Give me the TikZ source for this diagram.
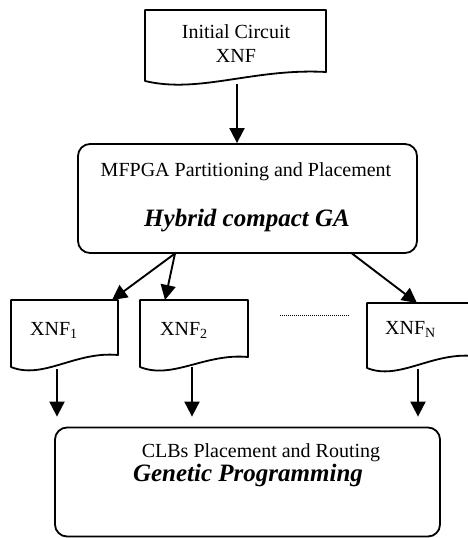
\documentclass[tikz,border=0pt]{standalone}
\usepackage{fontspec}
\setmainfont{Liberation Serif}
\usetikzlibrary{arrows.meta}
\tikzset{
  shapeline/.style={line width=1.8pt, line join=round},
  arr/.style={line width=1.9pt, -{Triangle[length=15pt,width=15pt]}},
  txt/.style={font=\fontsize{20}{24}\selectfont, inner sep=0pt, anchor=base},
  bigtxt/.style={font=\fontsize{25}{30}\selectfont\bfseries\itshape, inner sep=0pt, anchor=base},
  roundbox/.style={draw, shapeline, rounded corners=12pt},
}
\newcommand\docpath[5]{%
  \draw[shapeline] (#1,#4) -- (#1,#2) -- (#3,#2) -- (#3,#5)
    .. controls ({#3-0.4*(#3-#1)},#5-4) and ({#1+0.3*(#3-#1)},#4+13) .. (#1,#4) -- cycle;}
\begin{document}
\begin{tikzpicture}[x=1pt,y=-1pt]
\useasboundingbox (0,0) rectangle (468,538);
\clip (0,0) rectangle (468,538);
% top document
\docpath{145}{10}{326}{81}{72}
\node[txt] (init1) at (236,38) {Initial Circuit};
\node[txt] (init2) at (236,62) {XNF};
% big box
\node[roundbox, minimum width=339pt, minimum height=109pt] (mf) at (247.5,198.5) {};
\node[txt] (mft) at (246,176) {MFPGA Partitioning and Placement};
\node[bigtxt] (hyb) at (247,226) {Hybrid compact GA};
% XNF documents
\docpath{11}{300}{118}{367}{355}
\docpath{140}{300}{248}{367}{357}
\docpath{367}{303}{474}{368}{356}
\node[txt, anchor=base west] (x1) at (30,335) {XNF\textsubscript{1}};
\node[txt, anchor=base west] (x2) at (160,335) {XNF\textsubscript{2}};
\node[txt, anchor=base west] (xn) at (385,334) {XNF\textsubscript{N}};
\draw[line width=1pt, dash pattern=on 1pt off 1pt] (280,315) -- (350,315);
% bottom box
\node[roundbox, minimum width=385pt, minimum height=109pt] (clb) at (247.5,482) {};
\node[txt] (clbt) at (261,457) {CLBs Placement and Routing};
\node[bigtxt] (gp) at (248,481.5) {Genetic Programming};
% connectors
\coordinate (topb) at (237,84);
\draw[arr] (topb) -- (topb |- mf.north);
\coordinate (mfs1) at (175,253.5);
\coordinate (mfs2) at (352,253.5);
\coordinate (x1top) at (112,300);
\coordinate (x2top) at (165,300);
\coordinate (xntop) at (417,303);
\draw[arr] (mfs1) -- (x1top);
\draw[arr] (mfs1) -- (x2top);
\draw[arr] (mfs2) -- (xntop);
\coordinate (x1b) at (57,369);
\coordinate (x2b) at (192,367);
\coordinate (xnb) at (418,369);
\draw[arr, shorten >=10pt] (x1b) -- (x1b |- clb.north);
\draw[arr, shorten >=10pt] (x2b) -- (x2b |- clb.north);
\draw[arr, shorten >=10pt] (xnb) -- (xnb |- clb.north);
\end{tikzpicture}
\end{document}
